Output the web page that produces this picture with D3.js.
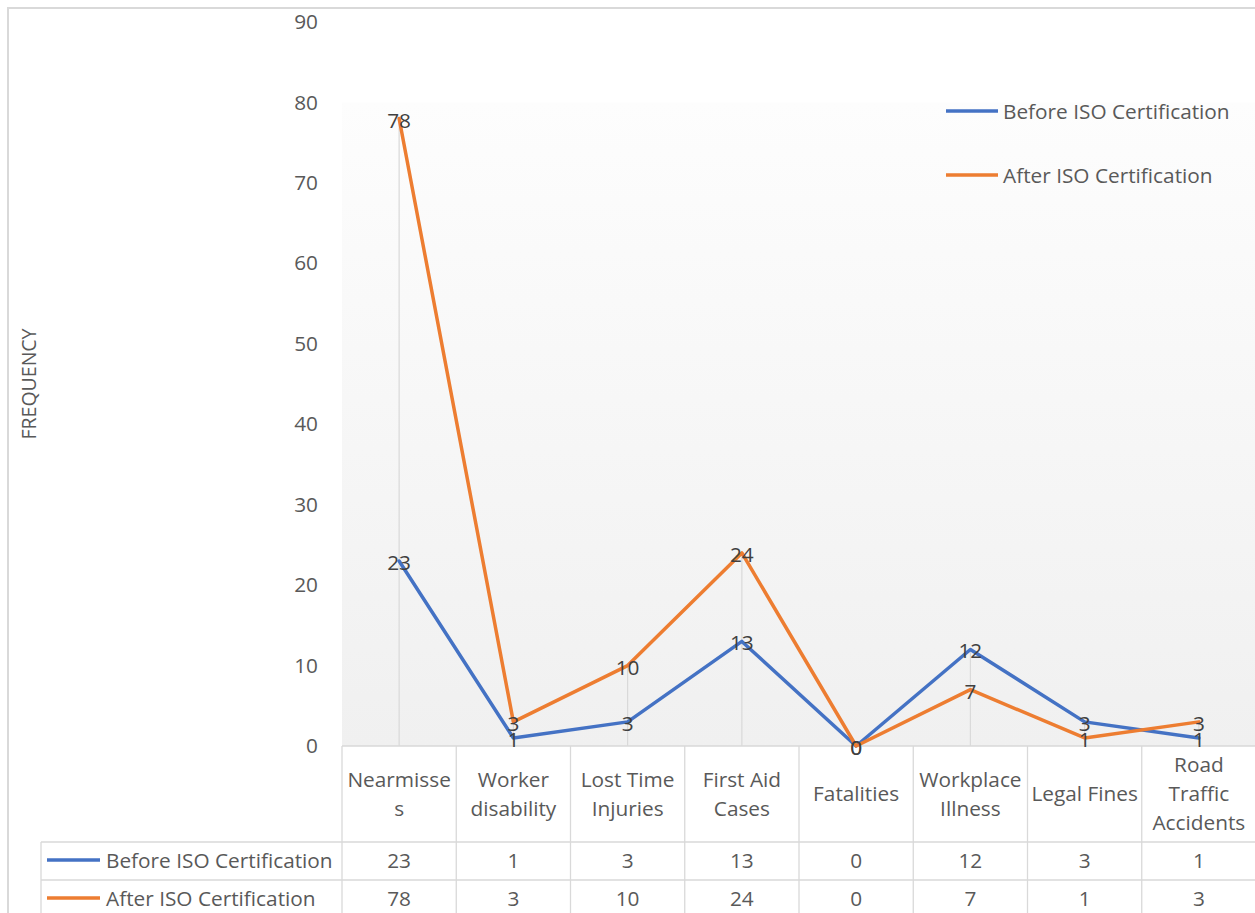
<!DOCTYPE html>
<html><head><meta charset="utf-8">
<script src="https://cdn.jsdelivr.net/npm/d3@7"></script>
<style>
html,body{margin:0;padding:0;background:#fff;overflow:hidden}
svg text{font-family:"Open Sans","Noto Sans",sans-serif;}
</style></head>
<body><svg id="c" width="1255" height="913"></svg>
<script>
const categories = ["Nearmisses","Worker disability","Lost Time Injuries","First Aid Cases","Fatalities","Workplace Illness","Legal Fines","Road Traffic Accidents"];
const categoryLines = [["Nearmisse","s"],["Worker","disability"],["Lost Time","Injuries"],["First Aid","Cases"],["Fatalities"],["Workplace","Illness"],["Legal Fines"],["Road","Traffic","Accidents"]];
const beforeISO = [23,1,3,13,0,12,3,1];
const afterISO = [78,3,10,24,0,7,1,3];
const seriesNames = ["Before ISO Certification","After ISO Certification"];
const seriesColors = ["#4472c4","#ed7d31"];
const yTicks = [0,10,20,30,40,50,60,70,80,90];
const yTitle = "FREQUENCY";

const svg = d3.select("#c");
const textCol = "#595959", gridCol = "#d9d9d9";
const FS = 20.8;
const y = d3.scaleLinear().domain([0,90]).range([746,22]);
const x = d3.scaleBand().domain(categories).range([342,1256]).paddingInner(0).paddingOuter(0);
const cx = c => x(c) + x.bandwidth()/2;
const series = [beforeISO, afterISO];

// outer border
svg.append("rect").attr("x",8).attr("y",8).attr("width",1260).attr("height",920)
  .attr("fill","none").attr("stroke",gridCol).attr("stroke-width",2);

// plot background gradient
const defs = svg.append("defs");
const g = defs.append("linearGradient").attr("id","bg").attr("x1",0).attr("y1",0).attr("x2",0).attr("y2",1);
g.append("stop").attr("offset","0%").attr("stop-color","#fdfdfd");
g.append("stop").attr("offset","100%").attr("stop-color","#f0f0f0");
svg.append("rect").attr("x",342).attr("y",y(80)).attr("width",914).attr("height",y(0)-y(80)).attr("fill","url(#bg)");

// drop lines from highest point to the axis
const maxVals = categories.map((c,i)=>Math.max(beforeISO[i],afterISO[i]));
svg.append("g").selectAll("line").data(categories).join("line")
  .attr("x1",cx).attr("x2",cx).attr("y1",(c,i)=>y(maxVals[i])).attr("y2",y(0))
  .attr("stroke",gridCol).attr("stroke-width",1.2);

// y axis
const yAxis = d3.axisLeft(y).tickValues(yTicks).tickSize(0).tickPadding(0);
const ya = svg.append("g").attr("transform","translate(318,0)").call(yAxis);
ya.select(".domain").remove();
ya.selectAll("text").attr("font-size",FS).attr("fill",textCol).attr("font-family","'Open Sans',sans-serif");

// y title
svg.append("text").attr("transform","translate(28,384) rotate(-90)").attr("text-anchor","middle")
  .attr("dominant-baseline","central").attr("font-size",19.5).attr("fill",textCol).text(yTitle);

// table grid
const tg = svg.append("g").attr("stroke",gridCol).attr("stroke-width",1.3);
tg.append("line").attr("x1",342).attr("x2",1256).attr("y1",746).attr("y2",746);
tg.append("line").attr("x1",41).attr("x2",1256).attr("y1",842).attr("y2",842);
tg.append("line").attr("x1",41).attr("x2",1256).attr("y1",880).attr("y2",880);
tg.append("line").attr("x1",41).attr("x2",41).attr("y1",842).attr("y2",913);
tg.selectAll("line.v").data(categories).join("line").attr("class","v")
  .attr("x1",c=>x(c)).attr("x2",c=>x(c)).attr("y1",746).attr("y2",913);

// header labels
const hdr = svg.append("g");
categories.forEach((c,i)=>{
  const lines = categoryLines[i];
  const lh = 29, mid = 793;
  const t = hdr.append("text").attr("text-anchor","middle").attr("font-size",FS).attr("fill",textCol)
    .attr("dominant-baseline","central");
  lines.forEach((l,j)=>{
    t.append("tspan").attr("x",cx(c)).attr("y",mid + (j-(lines.length-1)/2)*lh).text(l);
  });
});

// table rows
const rowY = [860, 898];
series.forEach((s,si)=>{
  svg.append("line").attr("x1",47).attr("x2",100).attr("y1",rowY[si]).attr("y2",rowY[si])
    .attr("stroke",seriesColors[si]).attr("stroke-width",3.5);
  svg.append("text").attr("x",106).attr("y",rowY[si]).attr("dominant-baseline","central")
    .attr("font-size",FS).attr("fill",textCol).text(seriesNames[si]);
  svg.append("g").selectAll("text").data(s).join("text")
    .attr("x",(d,i)=>cx(categories[i])).attr("y",rowY[si]).attr("text-anchor","middle")
    .attr("dominant-baseline","central").attr("font-size",FS).attr("fill",textCol).text(d=>d);
});

// lines
const line = d3.line().x((d,i)=>cx(categories[i])).y(d=>y(d));
series.forEach((s,si)=>{
  svg.append("path").datum(s).attr("d",line).attr("fill","none")
    .attr("stroke",seriesColors[si]).attr("stroke-width",3.5).attr("stroke-linejoin","round").attr("stroke-linecap","round");
});
// data labels
series.forEach((s,si)=>{
  svg.append("g").selectAll("text").data(s).join("text")
    .attr("x",(d,i)=>cx(categories[i])).attr("y",d=>y(d)+1).attr("text-anchor","middle")
    .attr("dominant-baseline","central").attr("font-size",FS).attr("fill","#404040").text(d=>d);
});

// legend
const legY = [111,175];
seriesNames.forEach((n,i)=>{
  svg.append("line").attr("x1",946).attr("x2",998).attr("y1",legY[i]).attr("y2",legY[i])
    .attr("stroke",seriesColors[i]).attr("stroke-width",3.5);
  svg.append("text").attr("x",1003).attr("y",legY[i]).attr("dominant-baseline","central")
    .attr("font-size",FS).attr("fill",textCol).text(n);
});
</script></body></html>
